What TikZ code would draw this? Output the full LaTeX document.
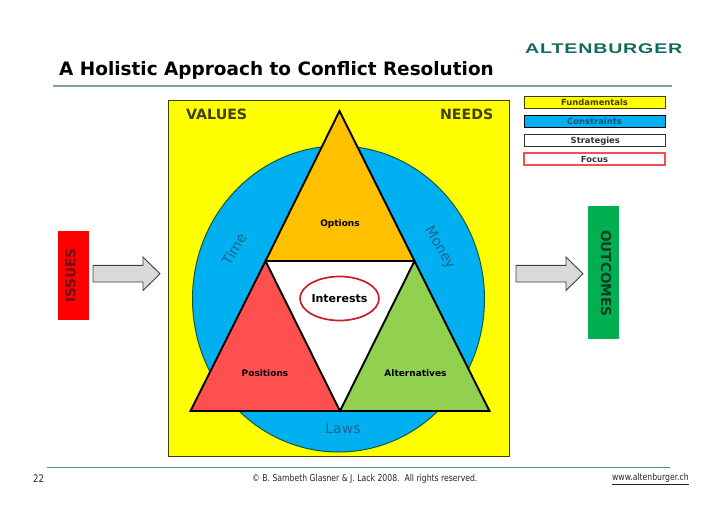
\documentclass[tikz,border=0pt]{standalone}
\usepackage{fontspec}
\usetikzlibrary{shapes.geometric}
\setmainfont{DejaVu Sans}
\newfontfamily\logofont[FakeStretch=1.4,LetterSpace=6]{Liberation Sans Bold}
\newfontfamily\narrowfont[FakeStretch=0.82]{DejaVu Sans}
\definecolor{cyellow}{HTML}{FFFF00}
\definecolor{cblue}{HTML}{00B0F0}
\definecolor{corange}{HTML}{FFC000}
\definecolor{cred}{HTML}{FF5050}
\definecolor{cgreen}{HTML}{92D050}
\definecolor{cissue}{HTML}{FF0000}
\definecolor{coutcome}{HTML}{00B050}
\definecolor{cgrey}{HTML}{D9D9D9}
\definecolor{crule}{HTML}{7FA3A8}
\definecolor{cfoot}{HTML}{4A9098}
\definecolor{clogo}{HTML}{14695F}
\definecolor{cbluetext}{HTML}{1A6690}
\definecolor{colive}{HTML}{404000}
\definecolor{cring}{HTML}{C8202A}
\definecolor{cdisc}{HTML}{0F5A3A}
\definecolor{cpink}{HTML}{F05050}
\definecolor{cissuetext}{HTML}{6E1018}
\definecolor{coutcometext}{HTML}{103C28}
\tikzset{
  box/.style={inner sep=0pt,outer sep=0pt,minimum height=12pt,minimum width=141pt,text height=7.6pt,text depth=1.2pt,font=\bfseries\fontsize{8.4}{10}\selectfont,line width=1pt},
  tri/.style={draw=black,line width=1.9pt,line join=miter},
  tlabel/.style={inner sep=0pt,text height=7pt,text depth=1.8pt,font=\bfseries\fontsize{9}{10}\selectfont},
  soft/.style={inner sep=0pt,text=cbluetext,font=\fontsize{14}{16}\selectfont},
  big/.style={inner sep=0pt,font=\bfseries\fontsize{14.2}{16}\selectfont},
  garrow/.style={draw=black!75,fill=cgrey,line width=0.9pt,line join=miter},
  band/.style={inner sep=0pt,draw=none,minimum width=31pt},
  bandtext/.style={inner sep=0pt,font=\bfseries\fontsize{13.7}{15}\selectfont}
}
\begin{document}
\begin{tikzpicture}[x=1pt,y=-1pt]
\useasboundingbox (0,0) rectangle (728,515);
% rules
\coordinate (ruleA) at (53,86); \coordinate (ruleB) at (672,86);
\coordinate (footA) at (47,467); \coordinate (footB) at (670,467);
\draw[crule,line width=1.2pt] (ruleA) -- (ruleB);
\draw[cfoot,line width=1pt] (footA) -- (footB);
% header
\node[anchor=west,inner sep=0pt,font=\bfseries\fontsize{18.45}{22}\selectfont] (title) at (59,70) {A Holistic Approach to Conflict Resolution};
\node[anchor=west,inner sep=0pt,text=clogo,font=\logofont\fontsize{14}{16}\selectfont] (logo) at (525,48.5) {ALTENBURGER};
% panel
\node[draw=colive,fill=cyellow,line width=1pt,minimum width=341pt,minimum height=355.5pt,inner sep=0pt] (panel) at (338.5,278.7) {};
\node[draw=cdisc,fill=cblue,ellipse,line width=1pt,minimum width=292pt,minimum height=306pt,inner sep=0pt] (disc) at (338.5,299) {};
% triangles
\coordinate (top) at (339.5,111);
\coordinate (ml) at (265.5,261);
\coordinate (mr) at (414.5,261);
\coordinate (bl) at (190.5,411);
\coordinate (bm) at (340,411);
\coordinate (br) at (489.5,411);
\fill[white] (ml) -- (mr) -- (bm) -- cycle;
\draw[tri,fill=corange] (top) -- (mr) -- (ml) -- cycle;
\draw[tri,fill=cred] (ml) -- (bm) -- (bl) -- cycle;
\draw[tri,fill=cgreen] (mr) -- (br) -- (bm) -- cycle;
\node[draw=cring,line width=1.7pt,fill=white,ellipse,minimum width=79pt,minimum height=44pt,inner sep=0pt] (ring) at (339.5,298.5) {};
\node[inner sep=0pt,font=\bfseries\fontsize{11}{12}\selectfont] (interests) at (ring.center) {Interests};
\node[tlabel] (options) at (340,223.5) {Options};
\node[tlabel] (positions) at (265,373.5) {Positions};
\node[tlabel] (alternatives) at (415.5,373.5) {Alternatives};
\node[soft,rotate=60] (time) at (234,249) {Time};
\node[soft,rotate=-60] (money) at (439.5,248) {Money};
\node[soft] (laws) at (343,428) {Laws};
\node[big,text=colive,anchor=west] (values) at (186,114.5) {VALUES};
\node[big,text=colive,anchor=east] (needs) at (493.5,114.5) {NEEDS};
% legend
\node[box,draw=colive,fill=cyellow] (fund) at (594.5,102.3) {\color{colive}Fundamentals};
\node[box,draw=black,fill=cblue] (cons) at (594.5,121) {\color{cbluetext!80!black}Constraints};
\node[box,draw=black!80,fill=white] (strat) at (595.3,140.5) {\color{black!80}Strategies};
\node[box,fill=white] (focus) at (594.5,159) {\color{black!80}Focus};
\draw[cpink,line width=1.2pt] (focus.north west) rectangle (focus.south east);
% side bands
\node[band,fill=cissue,minimum height=89pt] (issues) at (73.2,275.5) {};
\node[bandtext,rotate=90,text=cissuetext] (issuestxt) at (70.5,275.5) {ISSUES};
\node[band,fill=coutcome,minimum height=133pt] (outcomes) at (603.3,272.5) {};
\node[bandtext,rotate=-90,text=coutcometext] (outcomestxt) at (606,273.5) {OUTCOMES};
% arrows
\draw[garrow] (93,265.3) -- (143,265.3) -- (143,257) -- (160,273.8) -- (143,290.5) -- (143,282) -- (93,282) -- cycle;
\draw[garrow] (516,265.3) -- (566,265.3) -- (566,257) -- (583,273.8) -- (566,290.5) -- (566,282) -- (516,282) -- cycle;
% footer
\node[anchor=west,inner sep=0pt,font=\narrowfont\fontsize{10.4}{12}\selectfont,text=black!85] (page) at (33,479) {22};
\node[anchor=west,inner sep=0pt,font=\narrowfont\fontsize{9.4}{11}\selectfont,text=black!85] (copy) at (252,479) {© B. Sambeth Glasner \& J. Lack 2008.\ \ All rights reserved.};
\node[anchor=east,inner sep=0pt,font=\narrowfont\fontsize{9.4}{11}\selectfont,text=black!85] (web) at (689,479) {\underline{www.altenburger.ch}};
\end{tikzpicture}
\end{document}
